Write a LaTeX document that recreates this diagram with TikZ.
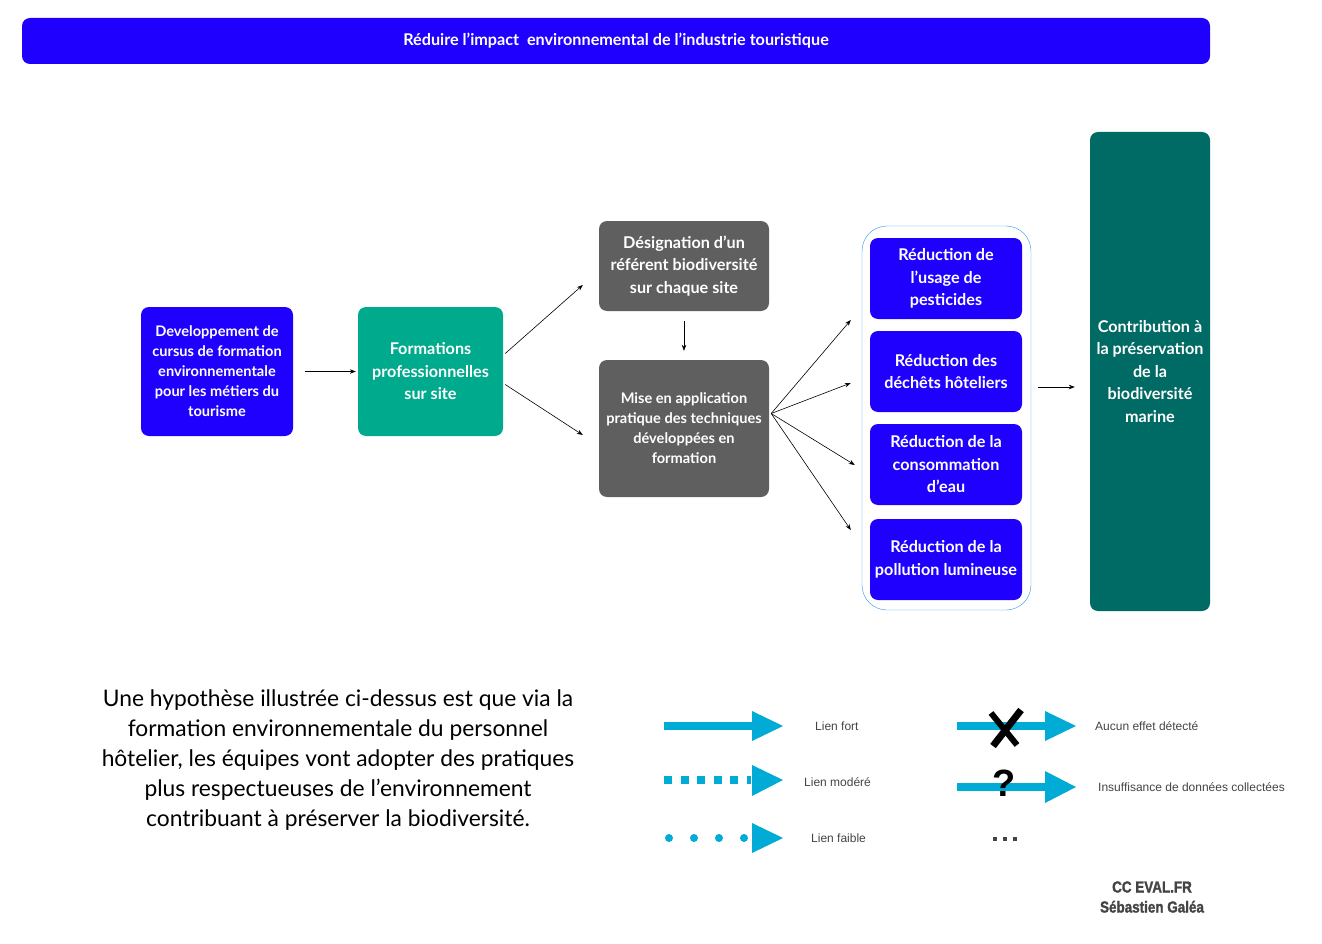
\documentclass[tikz,border=0pt]{standalone}
\usepackage{fontspec}
\setmainfont{Lato}
\newfontfamily\helv{Liberation Sans}
\newfontfamily\credfont{Liberation Sans}[FakeStretch=0.84,FakeBold=1.5]
\usetikzlibrary{positioning,arrows.meta}
\definecolor{royal}{HTML}{1F00FF}
\definecolor{mint}{HTML}{00AA8D}
\definecolor{slate}{HTML}{5F5F5F}
\definecolor{deepteal}{HTML}{006B64}
\definecolor{legcyan}{HTML}{00ABD5}
\definecolor{frameblue}{HTML}{2B95F0}
\definecolor{leggray}{HTML}{444444}

\begin{document}
\begin{tikzpicture}[x=1pt,y=-1pt,
  box/.style={rounded corners=8pt,text=white,align=center,inner sep=0pt,
    font=\bfseries\fontsize{16.2}{22.5}\selectfont},
  smalltext/.style={font=\bfseries\fontsize{14.6}{20}\selectfont},
  arr/.style={-{Stealth[length=6pt,width=4.5pt]},semithick},
  legline/.style={legcyan,line width=8pt},
  leglabel/.style={font=\helv\fontsize{12}{13}\selectfont,text=leggray,anchor=west,inner sep=0pt}]
\useasboundingbox (0,0) rectangle (1322,944);
%
\node[box,fill=royal,minimum width=1188pt,minimum height=46pt,
  font=\bfseries\fontsize{16.2}{18}\selectfont] (goal) at (616,41)
  {Réduire l’impact\ \ environnemental de l’industrie touristique};
%
\node[box,smalltext,fill=royal,minimum width=152pt,minimum height=129pt] (cursus) at (217,371.5)
  {Developpement de\\cursus de formation\\environnementale\\pour les métiers du\\tourisme};
\node[box,fill=mint,minimum width=145pt,minimum height=129pt] (forma) at (430.5,371.5)
  {Formations\\professionnelles\\sur site};
\node[box,fill=slate,minimum width=170pt,minimum height=90pt] (referent) at (684,266)
  {Désignation d’un\\référent biodiversité\\sur chaque site};
\node[box,smalltext,fill=slate,minimum width=170pt,minimum height=137pt] (pratique) at (684,428.5)
  {Mise en application\\pratique des techniques\\développées en\\formation};
%
\node[draw=frameblue,rounded corners=25pt,minimum width=169pt,minimum height=384pt] (groupe) at (946.5,418) {};
\node[box,fill=royal,minimum width=152pt,minimum height=81pt] (pest) at (946,278.5)
  {Réduction de\\l’usage de\\pesticides};
\node[box,fill=royal,minimum width=152pt,minimum height=81pt] (dechet) at (946,371.5)
  {Réduction des\\déchêts hôteliers};
\node[box,fill=royal,minimum width=152pt,minimum height=81pt] (eau) at (946,464.5)
  {Réduction de la\\consommation\\d’eau};
\node[box,fill=royal,minimum width=152pt,minimum height=81pt] (lum) at (946,559.5)
  {Réduction de la\\pollution lumineuse};
\node[box,fill=deepteal,minimum width=120pt,minimum height=479pt] (marine) at (1150,371.5)
  {Contribution à\\la préservation\\de la\\biodiversité\\marine};
%
\draw[arr,shorten <=12pt,shorten >=2pt] (cursus.east) -- (forma.west);
\draw[arr] ([shift={(2,-18)}]forma.east) -- ([shift={(-16,19)}]referent.west);
\draw[arr] ([shift={(2,13)}]forma.east) -- ([shift={(-16,6.5)}]pratique.west);
\draw[arr,shorten <=10pt,shorten >=9pt] (referent.south) -- (pratique.north);
\foreach \i/\dx/\dy in {1/-11/-98,2/-11/-35,3/-7/47,4/-11/112}{
  \coordinate (t\i) at ([shift={(\dx,\dy)}]groupe.west);
  \draw[arr] ([shift={(2,-15)}]pratique.east) -- (t\i);
}
\draw[arr] ([shift={(7,-31)}]groupe.east) -- ([shift={(-15,15.5)}]marine.west);
%
\node[align=center,font=\fontsize{22.8}{30}\selectfont,inner sep=0pt] (hypo) at (338,760)
  {Une hypothèse illustrée ci-dessus est que via la\\formation environnementale du personnel\\hôtelier, les équipes vont adopter des pratiques\\plus respectueuses de l’environnement\\contribuant à préserver la biodiversité.};
%
% legende
\draw[legline] (664,726) -- (755,726);
\fill[legcyan] (752,711) -- (783,726) -- (752,741) -- cycle;
\draw[legline,dash pattern=on 8pt off 8.6pt] (664,780) -- (751,780);
\fill[legcyan] (752,765) -- (783,780) -- (752,796) -- cycle;
\foreach \x in {669,694,719,744}
  \fill[legcyan] (\x,838) circle (4pt);
\fill[legcyan] (752,823) -- (783,838) -- (752,853) -- cycle;
\node[leglabel] (fort) at (815,726) {Lien fort};
\node[leglabel] (modere) at (804,782) {Lien modéré};
\node[leglabel] (faible) at (811,838) {Lien faible};
%
\draw[legline] (957,726) -- (1046,726);
\fill[legcyan] (1045,711) -- (1076,726) -- (1045,741) -- cycle;
\draw[black,line width=7pt] (1021,710) -- (993,746);
\draw[black,line width=6pt] (991,713) -- (1017,745);
\draw[legline] (957,787) -- (1046,787);
\fill[legcyan] (1045,771) -- (1076,787) -- (1045,803) -- cycle;
\node[font=\helv\bfseries\fontsize{38}{40}\selectfont,inner sep=0pt] (quest) at (1004,783) {?};
\foreach \x in {993,1003,1013}
  \fill[leggray] (\x,837) rectangle +(4,4);
\node[leglabel] (aucun) at (1095,726) {Aucun effet détecté};
\node[leglabel] (insuf) at (1098,787) {Insuffisance de données collectées};
%
\node[align=center,font=\credfont\bfseries\fontsize{16}{20}\selectfont,text=leggray,inner sep=0pt] (credit) at (1152,897)
  {CC EVAL.FR\\Sébastien Galéa};
\end{tikzpicture}
\end{document}
